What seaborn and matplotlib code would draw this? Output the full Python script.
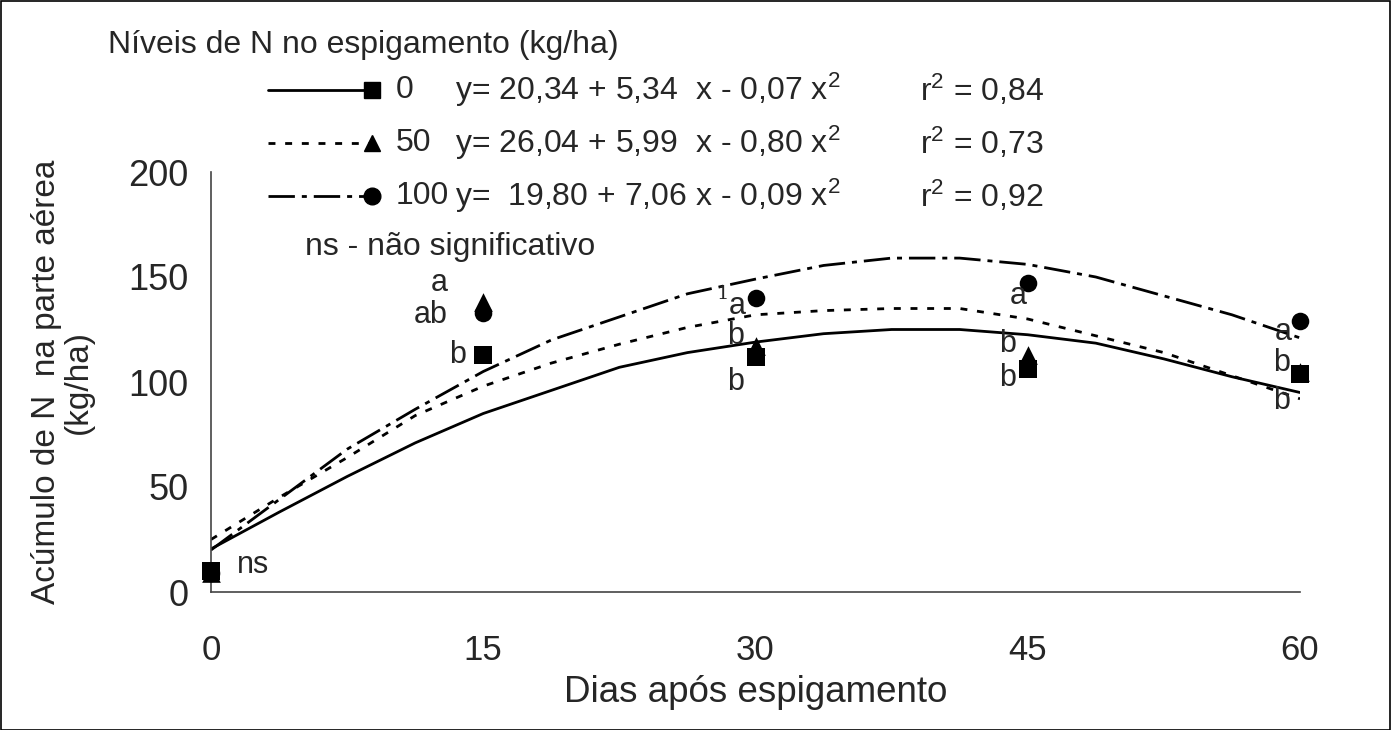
import matplotlib
matplotlib.use('Agg')
import matplotlib.pyplot as plt
from matplotlib.lines import Line2D
from matplotlib.patches import Rectangle
import seaborn as sns
import pandas as pd

# curvas ajustadas
dias_curva = [0, 3.75, 7.5, 11.25, 15, 18.75, 22.5, 26.25, 30, 33.75, 37.5, 41.25, 45, 48.75, 52.5, 56.25, 60]
curva_0 = [20.5, 38, 55, 71, 85, 96, 107, 114, 119, 123, 125, 125, 122.5, 118.5, 111, 102.5, 95]
curva_50 = [25, 45, 64, 84, 98, 109, 118, 126, 132, 134, 135, 135, 130, 122, 114, 103, 92]
curva_100 = [20, 44, 68, 87, 105, 120, 131, 142, 149, 155.5, 159, 159, 156, 150, 141, 132, 121]

# medias observadas
dias = [0, 15, 30, 45, 60]
obs_0 = [10, 113, 112, 106, 104]
obs_50 = [9, 138, 117, 113, 105]
obs_100 = [9, 133, 140, 147, 129]

# letras (teste de medias)
letras = ['ns', 'a', 'ab', 'b', 'a', 'b', 'b', 'a', 'b', 'b', 'a', 'b', 'b']
letras_x = [2.3, 12.6, 12.1, 13.6, 29.0, 28.9, 28.9, 44.5, 43.9, 43.9, 59.1, 59.0, 59.0]
letras_y = [13, 147, 132, 113, 136, 122, 100, 141, 118, 102, 124, 109, 91]

niveis = ['0', '50', '100']
equacoes = ['y= 20,34 + 5,34  x - 0,07 x$^2$',
            'y= 26,04 + 5,99  x - 0,80 x$^2$',
            'y=  19,80 + 7,06 x - 0,09 x$^2$']
r2 = ['r$^2$ = 0,84', 'r$^2$ = 0,73', 'r$^2$ = 0,92']

sns.set_style('white')
plt.rcParams['font.family'] = ['Liberation Sans', 'DejaVu Sans']
plt.rcParams['mathtext.fontset'] = 'custom'
plt.rcParams['mathtext.rm'] = 'Liberation Sans'
plt.rcParams['mathtext.it'] = 'Liberation Sans'

W, H = 1393, 730
fig = plt.figure(figsize=(W / 100, H / 100), dpi=100)
ax = fig.add_axes([211 / W, 1 - 592 / H, 1089 / W, 420 / H])

estilos = ['-', (0, (2.5, 3.5)), (0, (9.5, 2.5, 1.8, 2.5))]
marcadores = ['s', '^', 'o']

curvas = pd.DataFrame({'dias': dias_curva * 3,
                       'N': curva_0 + curva_50 + curva_100,
                       'nivel': ['0'] * 17 + ['50'] * 17 + ['100'] * 17})
obs = pd.DataFrame({'dias': dias * 3,
                    'N': obs_0 + obs_50 + obs_100,
                    'nivel': ['0'] * 5 + ['50'] * 5 + ['100'] * 5})

for nivel, ls in zip(niveis, estilos):
    d = curvas[curvas.nivel == nivel]
    sns.lineplot(data=d, x='dias', y='N', ax=ax, color='black', lw=2,
                 linestyle=ls, zorder=2)

# circulo, triangulo, quadrado (quadrado por cima)
for nivel, mk, sz in [('100', 'o', 160), ('50', '^', 180), ('0', 's', 150)]:
    d = obs[obs.nivel == nivel]
    sns.scatterplot(data=d, x='dias', y='N', ax=ax, color='black', marker=mk,
                    s=sz, edgecolor='black', linewidth=0, zorder=3, clip_on=False)

for t, x, y in zip(letras, letras_x, letras_y):
    ax.text(x, y, t, fontsize=22, ha='center', va='center')
ax.text(28.2, 142, '1', fontsize=14, family='DejaVu Serif', ha='center', va='center')

ax.set_xlim(0, 60)
ax.set_ylim(0, 200)
ax.set_xticks([0, 7.5, 15, 22.5, 30, 37.5, 45, 52.5, 60])
ax.set_xticklabels(['0', '', '15', '', '30', '', '45', '', '60'])
ax.set_yticks([0, 50, 100, 150, 200])
for s in ['top', 'right']:
    ax.spines[s].set_visible(False)
for s in ['left', 'bottom']:
    ax.spines[s].set_color('#444444')
    ax.spines[s].set_linewidth(1.2)
ax.tick_params(axis='x', direction='inout', length=16, width=1, color='#444444',
               labelsize=25, pad=22)
ax.tick_params(axis='y', direction='out', length=8, width=1, color='#444444',
               labelsize=26, pad=8)
ax.set_xlabel('Dias após espigamento', fontsize=26.5, labelpad=6)
ax.set_ylabel('Acúmulo de N  na parte aérea\n(kg/ha)', fontsize=24,
              labelpad=25, linespacing=1.05)

# legenda montada a mao
def fx(px):
    return px / W

def fy(py):
    return 1 - py / H

fs = 23
fig.text(fx(108), fy(45), 'Níveis de N no espigamento (kg/ha)', fontsize=fs,
         va='center', ha='left')
rows = [90, 143, 196]
for i in range(3):
    yy = fy(rows[i])
    fig.add_artist(Line2D([fx(268), fx(370)], [yy, yy], color='black', lw=2,
                          linestyle=estilos[i]))
    fig.add_artist(Line2D([fx(372)], [yy], color='black', marker=marcadores[i],
                          markersize=12, linestyle='none'))
    fig.text(fx(396), yy, niveis[i], fontsize=fs, va='center', ha='left')
    fig.text(fx(455), yy, equacoes[i], fontsize=fs, va='center', ha='left')
    fig.text(fx(920), yy, r2[i], fontsize=fs, va='center', ha='left')
fig.text(fx(305), fy(247), 'ns - não significativo', fontsize=fs,
         va='center', ha='left')

# moldura
fig.add_artist(Rectangle((0.001, 0.0), 0.997, 0.998, transform=fig.transFigure,
                         fill=False, edgecolor='black', lw=1.2))

fig.savefig('out.png', dpi=100)
